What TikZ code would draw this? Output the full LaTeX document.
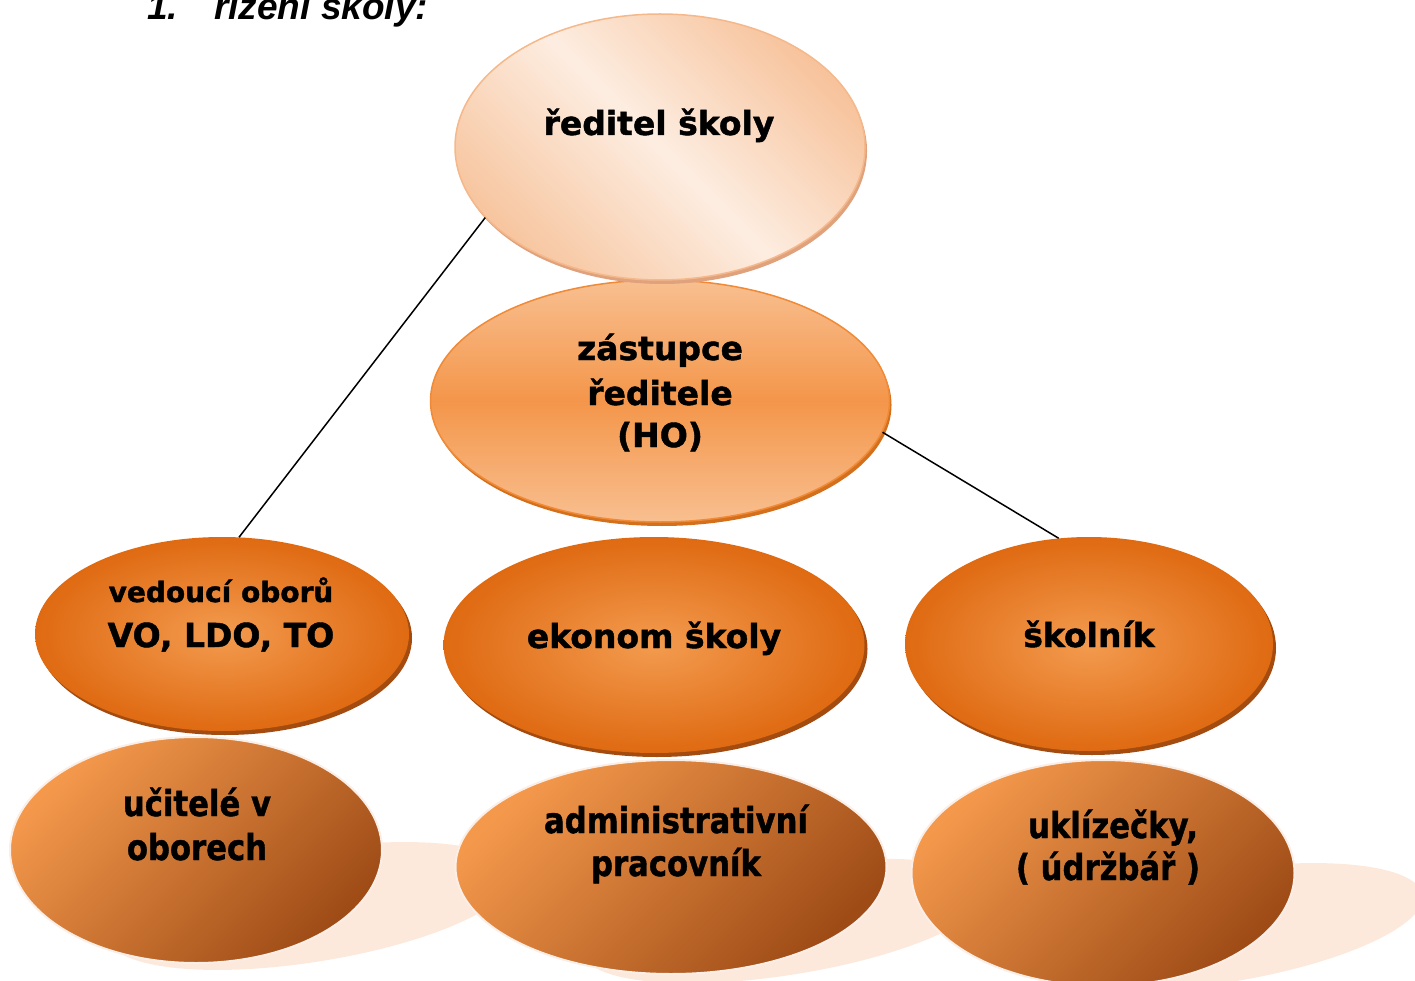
\documentclass[tikz,border=0pt]{standalone}
\usepackage{fontspec}
\usepackage{graphicx}
\setmainfont{DejaVu Sans}[BoldFont={DejaVu Sans Bold}, BoldFeatures={FakeBold=1.3}]
\newfontfamily\titlefont{Liberation Sans}
\usetikzlibrary{shapes.geometric,shadows}
\definecolor{shpeach}{HTML}{FCE9DC}
\definecolor{topA}{HTML}{F7C39C}
\definecolor{topB}{HTML}{FDEDE1}
\definecolor{topC}{HTML}{F7C6A0}
\definecolor{topline}{HTML}{F5B88A}
\definecolor{topedge}{HTML}{DFA27C}
\definecolor{zasA}{HTML}{F8BF90}
\definecolor{zasB}{HTML}{F4964A}
\definecolor{zasline}{HTML}{F08A36}
\definecolor{zasedge}{HTML}{D4701C}
\definecolor{orIn}{HTML}{F39B4F}
\definecolor{orOut}{HTML}{DF6A12}
\definecolor{oredge}{HTML}{A44C10}
\definecolor{brA}{HTML}{F4994C}
\definecolor{brB}{HTML}{9E4B16}
\definecolor{brline}{HTML}{FBEEE6}
\tikzset{
  ell/.style={ellipse, inner sep=0pt},
  topell/.style={ell, draw=topline, line width=1.5pt, top color=topA, bottom color=topC, middle color=topB, shading angle=-45,
     general shadow={shadow xshift=2pt, shadow yshift=-4pt, fill=topedge}},
  zasell/.style={ell, draw=zasline, line width=1.5pt, top color=zasA, bottom color=zasA, middle color=zasB,
     general shadow={shadow xshift=2pt, shadow yshift=-4pt, fill=zasedge}},
  orell/.style={ell, inner color=orIn, outer color=orOut,
     general shadow={shadow xshift=3pt, shadow yshift=-4pt, fill=oredge}},
  brell/.style={ell, draw=brline, line width=2pt, top color=brA, bottom color=brB, shading angle=45},
  lbl/.style={anchor=base, inner sep=0pt, font=\fontsize{33}{40}\selectfont\bfseries},
  lblsmall/.style={lbl, font=\fontsize{28}{34}\selectfont\bfseries},
  conn/.style={draw=black, line width=1.5pt},
  shadowell/.style={fill=shpeach}
}
\newcommand{\narrowtxt}[1]{\scalebox{0.93}[1.08]{#1}}
\begin{document}
\begin{tikzpicture}[x=1pt,y=-1pt]
\useasboundingbox (0,0) rectangle (1415,981);
% title (partly cut at top edge, as in the source)
\node[anchor=base west, inner sep=0pt, font=\titlefont\fontsize{37}{40}\selectfont\bfseries\itshape] (num) at (147,20) {1.};
\node[anchor=base west, inner sep=0pt, font=\titlefont\fontsize{37}{40}\selectfont\bfseries\itshape] (title) at (214,20) {řízení školy:};
% perspective shadows of the bottom row
\fill[shadowell, rotate around={9:(311,906)}] (311,906) ellipse [x radius=205, y radius=56];
\fill[shadowell, rotate around={9:(786,921)}] (786,921) ellipse [x radius=205, y radius=54];
\fill[shadowell, rotate around={9:(1220,927)}] (1220,927) ellipse [x radius=205, y radius=56];
% bottom row
\node[brell, minimum width=372pt, minimum height=226pt] (uci) at (196,850) {};
\node[brell, minimum width=431pt, minimum height=214pt] (adm) at (671,867) {};
\node[brell, minimum width=383pt, minimum height=226pt] (ukl) at (1103,873) {};
% middle row
\node[orell, minimum width=374pt, minimum height=194pt] (ved) at (222,634) {};
\node[orell, minimum width=421pt, minimum height=216pt] (eko) at (654,645) {};
\node[orell, minimum width=368pt, minimum height=214pt] (skn) at (1089,644) {};
% top
\node[zasell, minimum width=459pt, minimum height=242pt] (zas) at (660,401) {};
\node[topell, minimum width=410pt, minimum height=266pt] (dir) at (660,147) {};
% connectors
\draw[conn] (dir.202) -- (ved.80);
\draw[conn] (zas.-8) -- (skn.106);
% labels
\node[lbl] (tdir) at (659,135) {ředitel školy};
\node[lbl] (tz1) at (660,360) {zástupce};
\node[lbl] (tz2) at (660,405) {ředitele};
\node[lbl] (tz3) at (660,447) {(HO)};
\node[lblsmall] (tv1) at (221,602) {vedoucí oborů};
\node[lbl] (tv2) at (221,647) {VO, LDO, TO};
\node[lbl] (teko) at (654,648) {ekonom školy};
\node[lbl] (tskn) at (1089,647) {školník};
\node[lbl] (tu1) at (197,816) {\narrowtxt{učitelé v}};
\node[lbl] (tu2) at (197,860) {\narrowtxt{oborech}};
\node[lbl] (ta1) at (676,833) {\narrowtxt{administrativní}};
\node[lbl] (ta2) at (676,876) {\narrowtxt{pracovník}};
\node[lbl] (tk1) at (1113,838) {\narrowtxt{uklízečky,}};
\node[lbl] (tk2) at (1108,880) {\narrowtxt{( údržbář )}};
\end{tikzpicture}
\end{document}
